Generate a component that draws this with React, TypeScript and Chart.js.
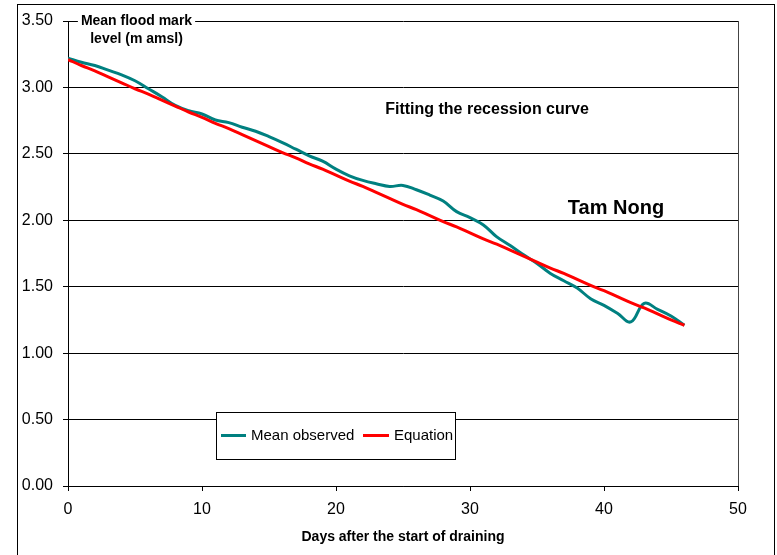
import React, { useEffect, useRef } from "react";
import { Chart, registerables } from "chart.js";

Chart.register(...registerables);

const days: number[] = [
  0, 1, 2, 3, 4, 5, 6, 7, 8, 9, 10, 11, 12, 13, 14, 15, 16, 17, 18, 19, 20, 21, 22, 23,
  24, 25, 26, 27, 28, 29, 30, 31, 32, 33, 34, 35, 36, 37, 38, 39, 40, 41, 42, 43, 44, 45, 46,
];

const meanObserved: number[] = [
  3.22, 3.19, 3.165, 3.13, 3.095, 3.05, 2.99, 2.93, 2.865, 2.825, 2.8, 2.755, 2.735, 2.7,
  2.67, 2.63, 2.585, 2.535, 2.485, 2.445, 2.385, 2.335, 2.3, 2.275, 2.255, 2.262, 2.23, 2.19,
  2.145, 2.065, 2.02, 1.965, 1.875, 1.81, 1.74, 1.675, 1.6, 1.545, 1.49, 1.41, 1.36, 1.3,
  1.235, 1.375, 1.33, 1.28, 1.21,
];

const equation: number[] = [
  3.21, 3.165, 3.125, 3.08, 3.035, 2.99, 2.95, 2.905, 2.86, 2.815, 2.775, 2.73, 2.69, 2.645,
  2.6, 2.555, 2.51, 2.47, 2.425, 2.385, 2.34, 2.295, 2.255, 2.21, 2.165, 2.12, 2.08, 2.035,
  1.99, 1.95, 1.905, 1.86, 1.82, 1.775, 1.73, 1.685, 1.64, 1.6, 1.555, 1.51, 1.47, 1.425,
  1.38, 1.34, 1.295, 1.25, 1.21,
];

const seriesLabels = ["Mean observed", "Equation"];
const seriesColors = ["#008080", "#ff0000"];
const yTitleLines = ["Mean flood mark", "level (m amsl)"];
const xTitle = "Days after the start of draining";
const noteText = "Fitting the recession curve";
const siteText = "Tam Nong";

const FONT = "'Liberation Sans', Arial, sans-serif";

const decorPlugin = {
  id: "decor",
  beforeDraw(chart: any) {
    const ctx = chart.ctx;
    ctx.save();
    ctx.fillStyle = "#fff";
    ctx.fillRect(0, 0, chart.width, chart.height);
    ctx.strokeStyle = "#000";
    ctx.lineWidth = 1;
    ctx.strokeRect(17.5, 4.5, 757, 600);
    ctx.restore();
  },
  afterDraw(chart: any) {
    const ctx = chart.ctx;
    const area = chart.chartArea;
    ctx.save();
    // right border of plot area
    ctx.strokeStyle = "#444";
    ctx.lineWidth = 1;
    ctx.beginPath();
    ctx.moveTo(Math.round(area.right) + 0.5, area.top);
    ctx.lineTo(Math.round(area.right) + 0.5, area.bottom);
    ctx.stroke();

    // y axis title at top
    ctx.font = `bold 14px ${FONT}`;
    ctx.textAlign = "center";
    ctx.textBaseline = "middle";
    const tw = ctx.measureText(yTitleLines[0]).width;
    ctx.fillStyle = "#fff";
    ctx.fillRect(136.5 - tw / 2 - 3, 14, tw + 6, 14);
    ctx.fillStyle = "#000";
    ctx.fillText(yTitleLines[0], 136.5, 21);
    ctx.fillText(yTitleLines[1], 136.5, 39);

    // x axis title
    ctx.fillText(xTitle, (area.left + area.right) / 2, 537);

    // notes
    ctx.font = `bold 16px ${FONT}`;
    ctx.fillText(noteText, 487, 110);
    ctx.fillStyle = "#fff";
    ctx.fillRect(548, 196, 136, 22);
    ctx.fillStyle = "#000";
    ctx.font = `bold 20px ${FONT}`;
    ctx.fillText(siteText, 616, 208);

    // legend
    const lx = 216.5, ly = 412.5, lw = 239, lh = 47;
    ctx.fillStyle = "#fff";
    ctx.fillRect(lx, ly, lw, lh);
    ctx.strokeStyle = "#000";
    ctx.strokeRect(lx, ly, lw, lh);
    const ds = chart.data.datasets;
    const items = [
      { x1: 221, x2: 246, tx: 251 },
      { x1: 363, x2: 389, tx: 394 },
    ];
    ctx.font = `15px ${FONT}`;
    ctx.textAlign = "left";
    items.forEach((it, i) => {
      ctx.strokeStyle = ds[i].borderColor;
      ctx.lineWidth = 3;
      ctx.beginPath();
      ctx.moveTo(it.x1, 435.5);
      ctx.lineTo(it.x2, 435.5);
      ctx.stroke();
      ctx.fillStyle = "#000";
      ctx.fillText(ds[i].label, it.tx, 436);
    });
    ctx.restore();
  },
};

export default function App() {
  const ref = useRef<HTMLCanvasElement | null>(null);
  useEffect(() => {
    if (!ref.current) return;
    const chart = new Chart(ref.current, {
      type: "line",
      data: {
        datasets: [
          {
            label: seriesLabels[0],
            data: days.map((d, i) => ({ x: d, y: meanObserved[i] })),
            borderColor: seriesColors[0],
            borderWidth: 3,
            pointRadius: 0,
            tension: 0.4,
            fill: false,
            order: 2,
          },
          {
            label: seriesLabels[1],
            data: days.map((d, i) => ({ x: d, y: equation[i] })),
            borderColor: seriesColors[1],
            borderWidth: 3,
            pointRadius: 0,
            tension: 0.4,
            fill: false,
            order: 1,
          },
        ],
      },
      options: {
        animation: false,
        responsive: false,
        maintainAspectRatio: false,
        layout: { padding: { left: 0, top: 21, right: 39, bottom: 0 } },
        plugins: { legend: { display: false }, tooltip: { enabled: false }, title: { display: false } },
        scales: {
          x: {
            type: "linear",
            min: 0,
            max: 50,
            ticks: { stepSize: 10, color: "#000", font: { family: FONT, size: 16 }, padding: 9, maxRotation: 0 },
            grid: { drawOnChartArea: false, drawTicks: true, tickLength: 5, color: "#000" },
            border: { display: true, color: "#000", width: 1 },
            afterFit: (s: any) => { s.height = 69; },
          },
          y: {
            min: 0,
            max: 3.5,
            ticks: {
              stepSize: 0.5,
              color: "#000",
              font: { family: FONT, size: 16 },
              padding: 10,
              callback: (v: any) => Number(v).toFixed(2),
            },
            grid: { color: "#000", lineWidth: 1, tickLength: 5, drawTicks: true },
            border: { display: true, color: "#000", width: 1 },
            afterFit: (s: any) => { s.width = 68; },
          },
        },
      },
      plugins: [decorPlugin],
    } as any);
    return () => chart.destroy();
  }, []);
  return (
    <div style={{ position: "fixed", left: 0, top: 0, width: 777, height: 555 }}>
      <canvas ref={ref} width={777} height={555} style={{ display: "block" }} />
    </div>
  );
}
